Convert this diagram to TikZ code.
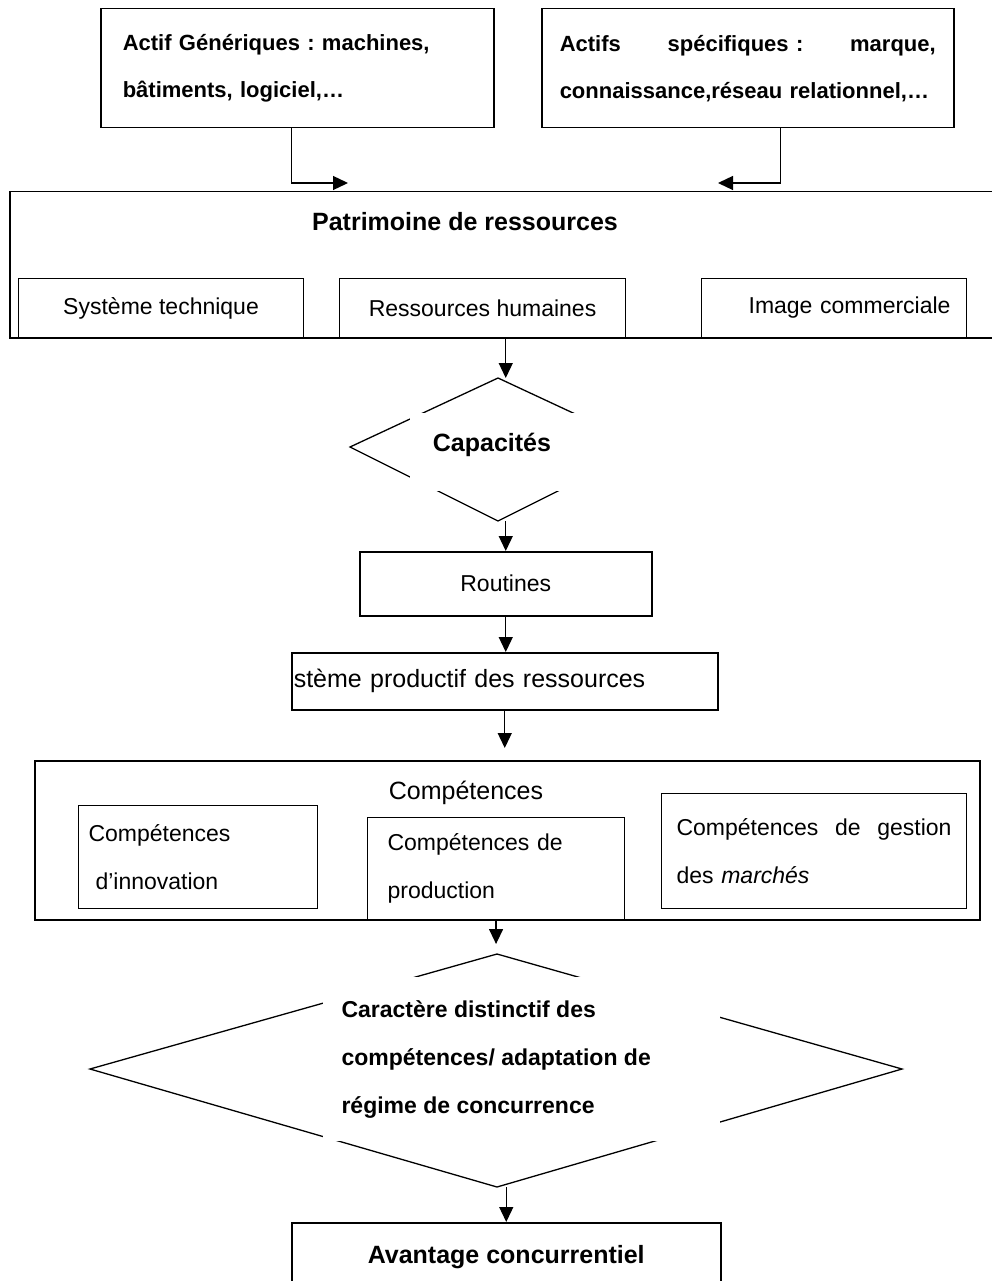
\documentclass[tikz,border=0pt]{standalone}
\usepackage{fontspec}
\setmainfont{Liberation Sans}
\usetikzlibrary{arrows.meta}
\frenchspacing

\begin{document}
\begin{tikzpicture}[x=1pt,y=-1pt,
  box/.style={draw, line width=1.5pt, rectangle, anchor=north west, inner sep=0pt},
  subbox/.style={draw, line width=1.1pt, rectangle, anchor=north west, inner sep=0pt},
  arr/.style={line width=1.3pt, -{Triangle[length=15pt,width=14pt]}},
  diam/.style={line width=1.3pt, line join=miter},
  txt/.style={font=\fontsize{23}{48}\selectfont},
  txtbig/.style={font=\fontsize{25}{48}\selectfont},
  bold/.style={font=\bfseries\fontsize{22}{47}\selectfont},
  boldbig/.style={font=\bfseries\fontsize{25}{48}\selectfont}]

\useasboundingbox (0,0) rectangle (992,1281);

% Actifs
\node[box, bold, minimum width=393pt, minimum height=119pt, text width=349pt, inner xsep=22pt, align=left] (gen) at (100,8)
  {Actif Génériques : machines,\\ bâtiments, logiciel,…};
\node[box, bold, minimum width=412pt, minimum height=119pt, text width=376pt, inner xsep=18pt, align=left] (spec) at (541,8)
  {Actifs\hfill spécifiques :\hfill marque,\\ \mbox{connaissance,réseau relationnel,…}};

% Patrimoine de ressources
\node[box, minimum width=992pt, minimum height=146pt] (patri) at (9,191) {};
\node[boldbig] (patrititle) at (465,222) {Patrimoine de ressources};
\node[subbox, txt, minimum width=285pt, minimum height=59pt] (systech) at (18,278) {Système technique};
\node[subbox, txt, minimum width=286pt, minimum height=59pt] (rh) at (339,278) {Ressources humaines};
\node[subbox, txt, minimum width=265pt, minimum height=59pt, text width=233pt, inner xsep=16pt, align=right] (img) at (701,278) {Image commerciale};

% Capacites
\coordinate (captop) at (498,378);
\coordinate (capright) at (646,447);
\coordinate (capbot) at (498,521);
\coordinate (capleft) at (350,447);
\draw[diam] (captop) -- (capright) -- (capbot) -- (capleft) -- cycle;
\fill[white] (410,413) rectangle (655,491);
\node[boldbig] (cap) at (492,445) {Capacités};

% Routines
\node[box, txt, minimum width=292pt, minimum height=64pt] (routines) at (359,551) {Routines};
\node[box, txtbig, minimum width=426pt, minimum height=57pt, text width=422pt, inner xsep=2pt, align=left] (prod) at (291,652)
  {stème productif des ressources};

% Competences
\node[box, minimum width=945pt, minimum height=159pt] (comp) at (34,760) {};
\node[txtbig] (comptitle) at (466,793) {Compétences};
\node[subbox, txt, minimum width=239pt, minimum height=103pt, text width=219pt, inner xsep=10pt, align=left] (cinno) at (78,805)
  {Compétences\\ \hspace*{7pt}d’innovation};
\node[subbox, txt, minimum width=257pt, minimum height=102pt, text width=217pt, inner xsep=20pt, align=left] (cprod) at (367,817)
  {Compétences de\\ production};
\node[subbox, txt, minimum width=305pt, minimum height=115pt, text width=275pt, inner xsep=15pt, align=left] (cmarch) at (661,793)
  {Compétences\hfill de\hfill gestion\\ des \textit{marchés}};

% Caractere distinctif
\coordinate (dtop) at (497,954);
\coordinate (dright) at (902,1069);
\coordinate (dbot) at (497,1187);
\coordinate (dleft) at (90,1069);
\draw[diam] (dtop) -- (dright) -- (dbot) -- (dleft) -- cycle;
\fill[white] (323,977) rectangle (720,1141);
\node[font=\bfseries\fontsize{23}{48}\selectfont, anchor=west, align=left] (distinct) at (338,1059)
  {Caractère distinctif des\\ compétences/ adaptation de\\ régime de concurrence};

% Avantage
\node[box, boldbig, minimum width=429pt, minimum height=68pt] (avantage) at (291,1222) {Avantage concurrentiel};

% Arrows
\coordinate (genend) at (348,183);
\coordinate (specend) at (718,183);
\draw[arr] ([xshift=-5.5pt]gen.south) |- (genend);
\draw[arr] ([xshift=33pt]spec.south) |- (specend);
\draw[arr] (patri.south) -- (patri.south |- captop);
\draw[arr] (routines.north |- capbot) -- (routines.north);
\draw[arr] (routines.south) -- (routines.south |- prod.north);
\draw[arr] (prod.south) -- ([yshift=12pt]prod.south |- comp.north);
\draw[arr] (cprod.south) -- ([yshift=10pt]cprod.south |- dtop);
\draw[arr] (dbot -| avantage.north) -- (avantage.north);

\end{tikzpicture}
\end{document}
